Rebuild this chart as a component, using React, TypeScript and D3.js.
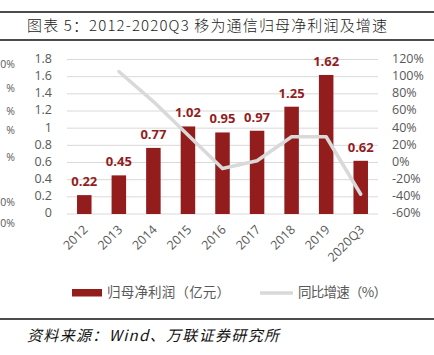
import React from "react";
import * as d3 from "d3";

const categories = ["2012", "2013", "2014", "2015", "2016", "2017", "2018", "2019", "2020Q3"];
const profit = [0.22, 0.45, 0.77, 1.02, 0.95, 0.97, 1.25, 1.62, 0.62];
const growth: (number | null)[] = [null, 106, 71, 32, -7, 2, 30, 30, -37];
const leftTicks = [0, 0.2, 0.4, 0.6, 0.8, 1, 1.2, 1.4, 1.6, 1.8];
const rightTicks = [-60, -40, -20, 0, 20, 40, 60, 80, 100, 120];
const ghostLabels = [
  { t: "0%", y: 65 },
  { t: "%", y: 89 },
  { t: "%", y: 112 },
  { t: "%", y: 131 },
  { t: "%", y: 158 },
  { t: "0%", y: 203 },
  { t: "0%", y: 224 },
];
const title = "图表 5：2012-2020Q3 移为通信归母净利润及增速";
const legendBar = "归母净利润（亿元）";
const legendLine = "同比增速（%）";
const source = "资料来源：Wind、万联证券研究所";

const W = 434;
const H = 355;
const plot = { left: 67, right: 378, top: 59.5, bottom: 214 };
const BAR = "#931d1d";
const GRID = "#d9d9d9";
const TXT = "#595959";
const FONT = "'Open Sans', 'Noto Sans CJK SC', sans-serif";
const CJK = "'Noto Sans CJK SC', sans-serif";

export default function App() {
  const x = d3.scaleBand<string>().domain(categories).range([plot.left, plot.right]).paddingInner(0.58).paddingOuter(0.29);
  const yL = d3.scaleLinear().domain([0, 1.8]).range([plot.bottom, plot.top]);
  const yR = d3.scaleLinear().domain([-60, 120]).range([plot.bottom, plot.top]);
  const cx = (c: string) => (x(c) as number) + x.bandwidth() / 2;

  const line = d3
    .line<number | null>()
    .defined((d) => d !== null)
    .x((_, i) => cx(categories[i]))
    .y((d) => yR(d as number));

  return (
    <svg width={W} height={H} style={{ position: "absolute", left: 0, top: 0, background: "#fff" }}>
      <rect width={W} height={H} fill="#fff" />
      {/* title */}
      <line x1={0} x2={W} y1={12} y2={12} stroke="#111" strokeWidth={1.6} />
      <line x1={0} x2={W} y1={40} y2={40} stroke="#111" strokeWidth={1.6} />
      <text x={27} y={31} fontFamily={CJK} fontSize={15} fontWeight={300} fill="#222" textLength={360} lengthAdjust="spacing">
        {title}
      </text>

      {/* ghost labels */}
      {ghostLabels.map((g, i) => (
        <text key={i} x={15} y={g.y} textAnchor="end" dominantBaseline="middle" fontFamily={FONT} fontSize={10.5} fill={TXT}>
          {g.t}
        </text>
      ))}

      {/* gridlines */}
      {leftTicks.map((t) => (
        <line key={t} x1={plot.left} x2={plot.right} y1={yL(t)} y2={yL(t)} stroke={GRID} strokeWidth={1} />
      ))}

      {/* left axis labels */}
      {leftTicks.map((t) => (
        <text key={t} x={52} y={yL(t)} textAnchor="end" dominantBaseline="middle" fontFamily={FONT} fontSize={12.5} fill={TXT}>
          {d3.format("~g")(t)}
        </text>
      ))}
      {/* right axis labels */}
      {rightTicks.map((t) => (
        <text key={t} x={392} y={yR(t)} textAnchor="start" dominantBaseline="middle" fontFamily={FONT} fontSize={12.5} fill={TXT}>
          {t + "%"}
        </text>
      ))}

      {/* bars */}
      {categories.map((c, i) => (
        <rect key={c} x={x(c)} y={yL(profit[i])} width={x.bandwidth()} height={yL(0) - yL(profit[i])} fill={BAR} />
      ))}

      {/* line */}
      <path d={line(growth) || ""} fill="none" stroke={GRID} strokeWidth={3.5} strokeLinejoin="round" strokeLinecap="round" />

      {/* bar labels */}
      {categories.map((c, i) => (
        <text key={c} x={cx(c)} y={yL(profit[i]) - 9} textAnchor="middle" fontFamily={FONT} fontSize={13} fontWeight="bold" fill={BAR}>
          {profit[i].toFixed(2)}
        </text>
      ))}

      {/* x labels */}
      {categories.map((c) => (
        <text
          key={c}
          transform={`translate(${cx(c) + 2},${plot.bottom + 14}) rotate(-45)`}
          textAnchor="end"
          dominantBaseline="middle"
          fontFamily={FONT}
          fontSize={12.5}
          fill={TXT}
        >
          {c}
        </text>
      ))}

      {/* legend */}
      <rect x={72} y={289} width={30} height={7.5} fill={BAR} />
      <text x={107} y={293} dominantBaseline="middle" fontFamily={CJK} fontSize={13.5} fill={TXT} textLength={123} lengthAdjust="spacing">
        {legendBar}
      </text>
      <line x1={260} x2={293} y1={293} y2={293} stroke={GRID} strokeWidth={3.5} />
      <text x={298} y={293} dominantBaseline="middle" fontFamily={CJK} fontSize={13.5} fill={TXT} textLength={89} lengthAdjust="spacing">
        {legendLine}
      </text>

      {/* source */}
      <line x1={0} x2={W} y1={319} y2={319} stroke="#111" strokeWidth={1.6} />
      <text x={27} y={341} fontFamily={CJK} fontSize={15} fontStyle="italic" fill="#111" textLength={252} lengthAdjust="spacing">
        {source}
      </text>
    </svg>
  );
}
